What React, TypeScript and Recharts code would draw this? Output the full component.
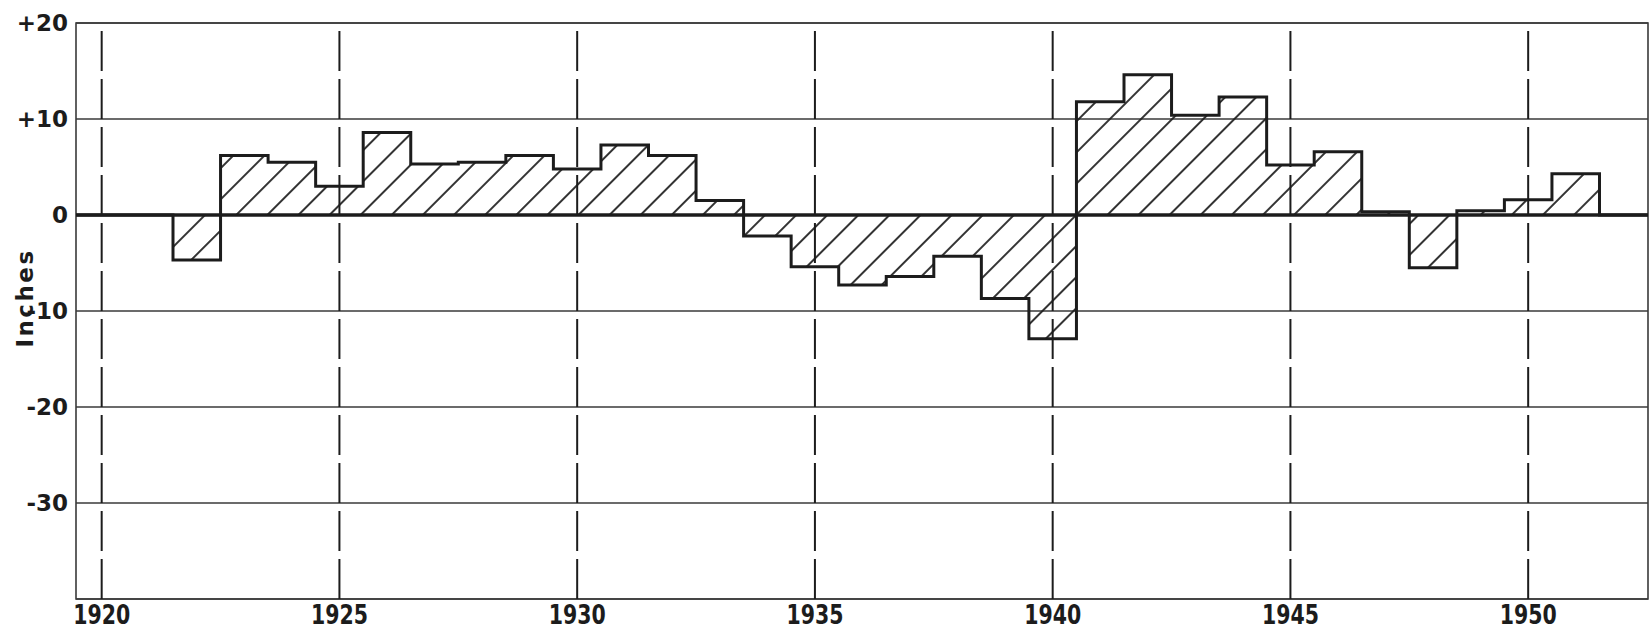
import { ComposedChart, Area, XAxis, YAxis, CartesianGrid, ReferenceLine, ReferenceArea, Label } from "recharts";

// annual departure from normal, inches (one step per year)
const years = [
  1919, 1920, 1921, 1922, 1923, 1924, 1925, 1926, 1927, 1928, 1929, 1930, 1931, 1932, 1933, 1934, 1935, 1936,
  1937, 1938, 1939, 1940, 1941, 1942, 1943, 1944, 1945, 1946, 1947, 1948, 1949, 1950, 1951, 1952, 1953,
];
const departures = [
  0, 0, 0, -4.7, 6.2, 5.5, 3.0, 8.6, 5.3, 5.5, 6.2, 4.8, 7.3, 6.2, 1.5, -2.2, -5.4, -7.3,
  -6.4, -4.3, -8.7, -12.9, 11.8, 14.6, 10.4, 12.3, 5.2, 6.6, 0.35, -5.5, 0.45, 1.6, 4.3, 0, 0,
];
const yearTicks = [1920, 1925, 1930, 1935, 1940, 1945, 1950];
const inchTicks = [20, 10, 0, -10, -20, -30];
const xDomain = [1919.46, 1952.52];
const yDomain = [-40, 20];

const data = years.map((year, i) => ({ year, value: departures[i] }));

const ink = "#1c1c1c";
const font = "'DejaVu Sans', sans-serif";

const YearTick = (props: any) => (
  <text
    x={props.x}
    y={624}
    textAnchor="middle"
    fill={ink}
    fontSize={27}
    fontWeight="bold"
    textLength={57}
    lengthAdjust="spacingAndGlyphs"
    fontFamily={font}
  >
    {props.payload.value}
  </text>
);

const InchTick = (props: any) => {
  const v = props.payload.value;
  return (
    <text
      x={68}
      y={props.y}
      dy="0.36em"
      textAnchor="end"
      fill={ink}
      fontSize={23}
      fontWeight="bold"
      fontFamily={font}
    >
      {v > 0 ? `+${v}` : `${v}`}
    </text>
  );
};

export default function App() {
  return (
    <div style={{ position: "absolute", left: 0, top: 0, width: 1652, height: 629, background: "#fff" }}>
      <ComposedChart width={1652} height={629} data={data} margin={{ top: 23, right: 4, bottom: 0, left: 0 }}>
        <defs>
          <pattern id="hatch" patternUnits="userSpaceOnUse" width="22" height="22" patternTransform="rotate(45)">
            <line x1="11" y1="0" x2="11" y2="22" stroke={ink} strokeWidth="1.8" />
          </pattern>
        </defs>
        <CartesianGrid vertical={false} stroke="#3a3a3a" strokeWidth={1.4} />
        <XAxis
          type="number"
          dataKey="year"
          domain={xDomain}
          allowDataOverflow
          ticks={yearTicks}
          interval={0}
          axisLine={false}
          tickLine={false}
          height={30}
          tick={<YearTick />}
        />
        <YAxis
          type="number"
          domain={yDomain}
          allowDataOverflow
          ticks={inchTicks}
          interval={0}
          axisLine={false}
          tickLine={false}
          width={76}
          tick={<InchTick />}
        >
          <Label
            content={() => (
              <text
                x={33}
                y={298}
                transform="rotate(-90 33 298)"
                textAnchor="middle"
                fill={ink}
                fontSize={23}
                fontWeight="bold"
                letterSpacing={2.5}
                fontFamily={font}
              >
                Inches
              </text>
            )}
          />
        </YAxis>
        {yearTicks.map((yr) => (
          <ReferenceLine key={yr} x={yr} stroke={ink} strokeWidth={2} strokeDasharray="40 8" />
        ))}
        <Area
          type="step"
          dataKey="value"
          stroke={ink}
          strokeWidth={3}
          fill="url(#hatch)"
          fillOpacity={1}
          isAnimationActive={false}
          dot={false}
          activeDot={false}
        />
        <ReferenceLine y={0} stroke={ink} strokeWidth={3.5} />
        <ReferenceArea
          x1={xDomain[0]}
          x2={xDomain[1]}
          y1={yDomain[0]}
          y2={yDomain[1]}
          fill="none"
          fillOpacity={0}
          stroke="#3a3a3a"
          strokeWidth={1.6}
        />
      </ComposedChart>
    </div>
  );
}
